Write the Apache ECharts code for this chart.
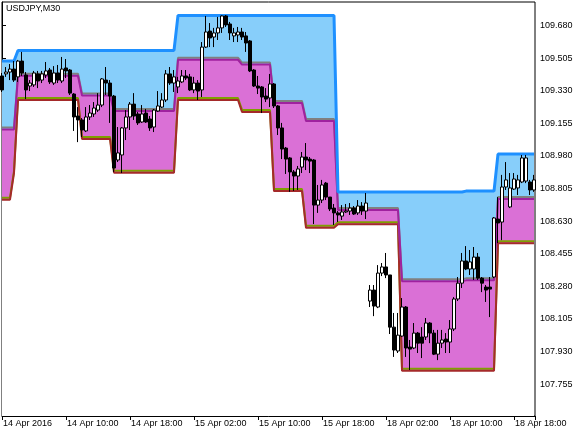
<!DOCTYPE html>
<html><head><meta charset="utf-8">
<script src="https://cdn.jsdelivr.net/npm/echarts@6/dist/echarts.min.js"></script>
<style>html,body{margin:0;padding:0;background:#fff}#c{width:587px;height:436px}</style>
</head><body><div id="c"></div>
<script>
const symbolName = 'USDJPY,M30';
const timeLabels = ['14 Apr 2016','14 Apr 10:00','14 Apr 18:00','15 Apr 02:00','15 Apr 10:00','15 Apr 18:00','18 Apr 02:00','18 Apr 10:00','18 Apr 18:00'];
const priceTicks = [109.680,109.505,109.330,109.155,108.980,108.805,108.630,108.455,108.280,108.105,107.930,107.755];

// one M30 bar per entry: [open, close, low, high]
const candles = [
[109.409,109.334,109.323,109.425],[109.420,109.430,109.404,109.457],[109.430,109.446,109.387,109.473],[109.446,109.387,109.377,109.489],
[109.404,109.489,109.377,109.495],[109.489,109.425,109.409,109.538],[109.414,109.334,109.285,109.430],[109.355,109.371,109.328,109.387],
[109.361,109.425,109.350,109.436],[109.420,109.382,109.344,109.436],[109.387,109.420,109.371,109.436],[109.414,109.436,109.398,109.484],
[109.441,109.377,109.366,109.452],[109.371,109.425,109.361,109.462],[109.425,109.387,109.371,109.468],[109.382,109.446,109.371,109.511],
[109.452,109.436,109.398,109.500],[109.441,109.317,109.307,109.446],[109.312,109.189,109.114,109.317],[109.194,109.173,109.054,109.242],
[109.173,109.119,109.081,109.183],[109.114,109.189,109.108,109.242],[109.189,109.210,109.173,109.253],[109.205,109.237,109.189,109.269],
[109.226,109.253,109.216,109.317],[109.253,109.393,109.242,109.398],[109.387,109.371,109.307,109.457],[109.371,109.301,109.157,109.387],
[109.301,108.915,108.894,109.307],[108.958,108.996,108.947,109.135],[108.985,109.130,108.888,109.135],[109.130,109.189,109.065,109.226],
[109.189,109.258,109.119,109.269],[109.258,109.194,109.173,109.317],[109.205,109.157,109.146,109.216],[109.162,109.205,109.157,109.253],
[109.210,109.162,109.157,109.232],[109.178,109.130,109.114,109.194],[109.135,109.226,109.108,109.232],[109.221,109.248,109.216,109.328],
[109.242,109.280,109.237,109.317],[109.280,109.420,109.269,109.441],[109.420,109.371,109.361,109.457],[109.371,109.404,109.323,109.441],
[109.350,109.382,109.317,109.404],[109.377,109.409,109.371,109.441],[109.409,109.398,109.387,109.441],[109.404,109.334,109.328,109.420],
[109.334,109.371,109.317,109.404],[109.371,109.328,109.280,109.387],[109.334,109.564,109.296,109.591],[109.564,109.645,109.559,109.731],
[109.650,109.613,109.564,109.693],[109.618,109.640,109.564,109.667],[109.640,109.667,109.602,109.726],[109.667,109.731,109.640,109.734],
[109.731,109.683,109.672,109.736],[109.688,109.640,109.602,109.699],[109.624,109.640,109.591,109.667],[109.629,109.645,109.591,109.672],
[109.645,109.618,109.602,109.667],[109.624,109.586,109.538,109.645],[109.597,109.436,109.430,109.602],[109.441,109.355,109.350,109.446],
[109.355,109.344,109.312,109.409],[109.350,109.296,109.210,109.355],[109.301,109.285,109.269,109.344],[109.291,109.366,109.242,109.420],
[109.366,109.248,109.237,109.371],[109.248,109.130,109.092,109.253],[109.130,109.017,108.963,109.157],[109.022,108.963,108.883,109.028],
[108.969,108.894,108.787,108.974],[108.894,108.872,108.792,108.904],[108.872,108.910,108.797,108.926],[108.920,108.974,108.888,109.001],
[108.974,108.958,108.904,109.049],[108.963,108.952,108.888,108.974],[108.958,108.716,108.614,108.963],[108.716,108.743,108.674,108.824],
[108.743,108.824,108.727,108.851],[108.834,108.759,108.743,108.840],[108.759,108.695,108.684,108.759],[108.700,108.674,108.609,108.722],
[108.674,108.663,108.625,108.684],[108.657,108.679,108.636,108.716],[108.679,108.684,108.674,108.722],[108.684,108.700,108.663,108.727],
[108.700,108.668,108.663,108.711],[108.674,108.711,108.663,108.743],[108.711,108.684,108.663,108.732],[108.684,108.727,108.641,108.781],
[108.201,108.260,108.169,108.287],[108.260,108.174,108.120,108.287],[108.169,108.351,108.163,108.394],[108.351,108.384,108.335,108.405],
[108.384,108.341,108.324,108.459],[108.341,108.061,108.024,108.341],[108.061,107.938,107.901,108.137],[107.933,108.018,107.922,108.137],
[108.013,108.169,108.008,108.217],[108.169,107.949,107.901,108.174],[107.954,107.943,107.831,107.992],[107.949,108.029,107.943,108.083],
[108.029,107.975,107.922,108.035],[108.008,107.975,107.895,108.061],[108.008,108.083,107.992,108.110],[108.083,108.029,107.975,108.088],
[108.029,107.916,107.911,108.046],[107.916,107.975,107.884,108.046],[107.975,107.992,107.949,108.046],[107.997,107.981,107.922,108.029],
[107.981,108.051,107.922,108.099],[108.051,108.212,108.040,108.222],[108.212,108.297,108.201,108.330],[108.297,108.416,108.271,108.459],
[108.416,108.373,108.367,108.496],[108.373,108.411,108.341,108.475],[108.373,108.437,108.314,108.491],[108.437,108.324,108.314,108.459],
[108.324,108.297,108.249,108.330],[108.276,108.260,108.196,108.287],[108.276,108.265,108.115,108.330],[108.330,108.647,108.324,108.652],
[108.641,108.620,108.512,108.759],[108.625,108.813,108.528,108.878],[108.813,108.851,108.797,108.947],[108.706,108.808,108.700,108.888],
[108.802,108.856,108.797,108.888],[108.808,108.851,108.770,108.878],[108.840,108.969,108.834,108.985],[108.845,108.969,108.834,108.985],
[108.840,108.797,108.770,108.851],[108.797,108.851,108.787,108.878]
];

const upperBand = [
109.489,109.489,109.489,109.489,
109.546,109.546,109.546,109.546,109.546,109.546,109.546,109.546,109.546,109.546,
109.546,109.546,109.546,109.546,109.546,109.546,109.546,109.546,109.546,109.546,
109.546,109.546,109.546,109.546,109.546,109.546,109.546,109.546,109.546,109.546,
109.546,109.546,109.546,109.546,109.546,109.546,109.546,109.546,109.546,109.546,
109.734,109.734,109.734,109.734,109.734,109.734,109.734,109.734,109.734,109.734,
109.734,109.734,109.734,109.734,109.734,109.734,109.734,109.734,109.734,109.734,
109.734,109.734,109.734,109.734,109.734,109.734,109.734,109.734,109.734,109.734,
109.734,109.734,109.734,109.734,109.734,109.734,109.734,109.734,109.734,109.734,
108.786,108.786,108.786,108.786,108.786,108.786,108.786,108.786,
108.786,108.786,108.786,108.786,108.786,108.786,108.786,108.786,
108.786,108.786,108.786,108.786,108.786,108.786,108.786,108.786,
108.786,108.786,108.786,108.786,108.786,108.786,108.786,108.786,
108.791,108.791,108.791,108.791,108.791,108.791,108.791,108.791,
108.990,108.990,108.990,108.990,108.990,108.990,108.990,108.990,108.990,108.990
];

const middleBand = [
109.122,109.122,109.122,109.122,
109.410,109.410,109.410,109.410,109.410,109.410,109.410,109.410,
109.410,109.410,109.410,109.410,109.410,109.410,109.410,109.410,
109.304,109.304,109.304,109.304,109.304,109.304,109.304,109.304,
109.221,109.221,109.221,109.221,109.221,109.221,109.221,109.221,
109.221,109.221,109.221,109.221,109.221,109.221,109.221,109.221,
109.496,109.496,109.496,109.496,109.496,109.496,109.496,109.496,
109.496,109.496,109.496,109.496,109.496,109.496,109.496,109.496,
109.470,109.470,109.470,109.470,109.470,109.470,109.470,109.470,
109.264,109.264,109.264,109.264,109.264,109.264,109.264,109.264,
109.167,109.167,109.167,109.167,109.167,109.167,109.167,109.167,
108.690,108.690,108.690,108.690,108.690,108.690,108.690,108.690,
108.690,108.690,108.690,108.690,108.690,108.690,108.690,108.690,
108.307,108.307,108.307,108.307,108.307,108.307,108.307,108.307,
108.307,108.307,108.307,108.307,108.307,108.307,108.307,108.307,
108.312,108.312,108.312,108.312,108.312,108.312,108.312,108.312,
108.749,108.749,108.749,108.749,108.749,108.749,108.749,108.749,108.749,108.749
];

const lowerBand = [
108.745,108.745,108.745,
108.888,
109.280,109.280,109.280,109.280,109.280,109.280,109.280,109.280,
109.280,109.280,109.280,109.280,109.280,109.280,109.280,109.280,
109.071,109.071,109.071,109.071,109.071,109.071,109.071,109.071,
108.890,108.890,108.890,108.890,108.890,108.890,108.890,108.890,
108.890,108.890,108.890,108.890,108.890,108.890,108.890,108.890,
109.280,109.280,109.280,109.280,109.280,109.280,109.280,109.280,
109.280,109.280,109.280,109.280,109.280,109.280,109.280,109.280,
109.216,109.216,109.216,109.216,109.216,109.216,109.216,109.216,
108.791,108.791,108.791,108.791,108.791,108.791,108.791,108.791,
108.594,108.594,108.594,108.594,108.594,108.594,108.594,108.594,
108.613,108.613,108.613,108.613,108.613,108.613,108.613,108.613,
108.613,108.613,108.613,108.613,108.613,108.613,108.613,108.613,
107.827,107.827,107.827,107.827,107.827,107.827,107.827,107.827,
107.827,107.827,107.827,107.827,107.827,107.827,107.827,107.827,
107.827,107.827,107.827,107.827,107.827,107.827,107.827,107.827,
108.511,108.511,108.511,108.511,108.511,108.511,108.511,108.511,108.511,108.511
];

const FONT = "'Liberation Sans', Arial, sans-serif";
const chart = echarts.init(document.getElementById('c'), null, {renderer: 'canvas'});

const candleData = candles.map((c, i) => [i, c[0], c[1], c[2], c[3]]);
const asPairs = arr => arr.map((v, i) => [i, v]);
const hiddenLine = {width: 0, opacity: 0};

// Fills: each band painted down to the bottom of the plot, layered top-down.
const fillSeries = (arr, color) => ({
  type: 'line', data: asPairs(arr), symbol: 'none', silent: true, z: 1,
  lineStyle: hiddenLine, areaStyle: {color: color, opacity: 1, origin: 'start'}
});

chart.setOption({
  animation: false,
  backgroundColor: '#ffffff',
  grid: {left: 2, top: 2, right: 52, bottom: 20, show: true, borderColor: '#000', borderWidth: 1, containLabel: false},
  graphic: [{
    type: 'text', left: 6, top: 4, z: 100,
    style: {text: symbolName, fontSize: 9, fontFamily: FONT, fill: '#000'}
  }],
  xAxis: {
    type: 'value', min: 0, max: 133.25, interval: 16,
    axisLine: {show: true, lineStyle: {color: '#000', width: 1}},
    axisTick: {show: true, length: 4, lineStyle: {color: '#000'}},
    splitLine: {show: false},
    axisLabel: {
      color: '#000', fontSize: 9, fontFamily: FONT, align: 'left', margin: 3, padding: [0, 0, 0, 1],
      formatter: v => (Math.abs(v % 16) < 1e-6 ? (timeLabels[Math.round(v / 16)] || '') : '')
    }
  },
  yAxis: {
    type: 'value', position: 'right', min: 107.584, max: 109.806,
    axisLine: {show: true, lineStyle: {color: '#000', width: 1}},
    axisTick: {show: true, length: 4, customValues: priceTicks, lineStyle: {color: '#000'}},
    splitLine: {show: false},
    axisLabel: {color: '#000', fontSize: 9, fontFamily: FONT, margin: 5, customValues: priceTicks,
      formatter: v => Number(v).toFixed(3)}
  },
  series: [
    fillSeries(upperBand, '#87CEFA'),
    fillSeries(middleBand, '#DA70D6'),
    fillSeries(lowerBand, '#FFFFFF'),
    {type: 'line', data: asPairs(lowerBand), symbol: 'none', silent: true, z: 2,
      lineStyle: {color: '#A52A2A', width: 2, shadowColor: '#7FA000', shadowBlur: 0, shadowOffsetX: 0, shadowOffsetY: -2}},
    {type: 'line', data: asPairs(middleBand), symbol: 'none', silent: true, z: 2,
      lineStyle: {color: '#A0219F', width: 2, shadowColor: '#808080', shadowBlur: 0, shadowOffsetX: 0, shadowOffsetY: -2}},
    {type: 'line', data: asPairs(upperBand), symbol: 'none', silent: true, z: 3,
      lineStyle: {color: '#1E90FF', width: 3}},
    {type: 'candlestick', data: candleData, encode: {x: 0, y: [1, 2, 3, 4]}, barWidth: 3, silent: true, z: 5,
      itemStyle: {color: '#ffffff', color0: '#000000', borderColor: '#000000', borderColor0: '#000000', borderWidth: 1}}
  ]
});
</script>
</body></html>
